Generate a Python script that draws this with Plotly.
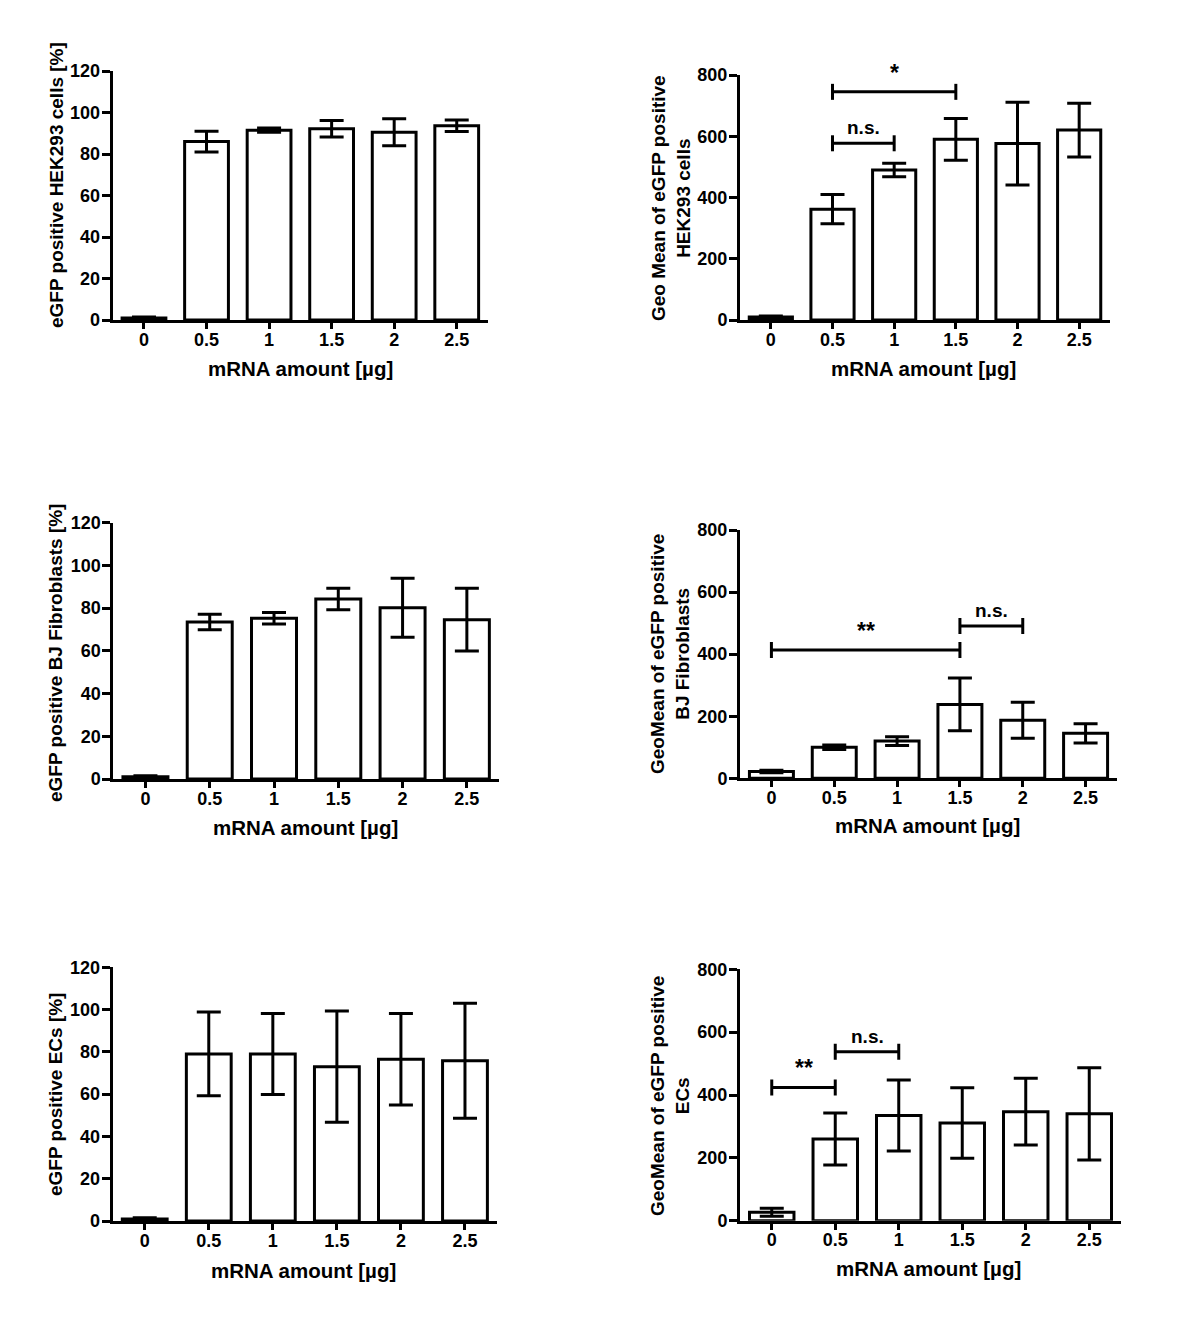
import plotly.graph_objects as go

W, H = 1200, 1322
FONT = "Liberation Sans"
OFF = 8  # page body margin of the html page

categories = ["0", "0.5", "1", "1.5", "2", "2.5"]

# Panel values (mean, error)
hek_pct = [1, 86, 91.5, 92.2, 90.5, 93.6]
hek_pct_err = [0.5, 5, 1, 4, 6.5, 2.8]
hek_geo = [10, 362, 490, 590, 576, 620]
hek_geo_err = [3, 48, 22, 68, 135, 88]
bj_pct = [1, 73.5, 75.3, 84.3, 80.2, 74.6]
bj_pct_err = [0.5, 3.6, 2.7, 5, 13.8, 14.7]
bj_geo = [22, 100, 120, 238, 187, 145]
bj_geo_err = [4, 7, 14, 85, 58, 31]
ec_pct = [1, 79, 79, 73, 76.5, 75.8]
ec_pct_err = [0.5, 19.8, 19.2, 26.3, 21.6, 27.2]
ec_geo = [27, 260, 335, 311, 347, 340]
ec_geo_err = [13, 83, 113, 112, 106, 147]

y_titles = [
    "eGFP positive HEK293 cells [%]",
    "Geo Mean of eGFP positive<br>HEK293 cells",
    "eGFP positive BJ Fibroblasts [%]",
    "GeoMean of eGFP positive<br>BJ Fibroblasts",
    "eGFP positive ECs [%]",
    "GeoMean of eGFP positive<br>ECs",
]
x_title = "mRNA amount [µg]"

# significance brackets: (panel, from, to, y, label)
brackets = [
    (2, "0.5", "1.5", 745, "*"),
    (2, "0.5", "1", 577, "n.s."),
    (4, "0", "1.5", 413, "**"),
    (4, "1.5", "2", 491, "n.s."),
    (6, "0", "0.5", 424, "**"),
    (6, "0.5", "1", 538, "n.s."),
]

panels = [
    (hek_pct, hek_pct_err, [0, 120], 20),
    (hek_geo, hek_geo_err, [0, 800], 200),
    (bj_pct, bj_pct_err, [0, 120], 20),
    (bj_geo, bj_geo_err, [0, 800], 200),
    (ec_pct, ec_pct_err, [0, 120], 20),
    (ec_geo, ec_geo_err, [0, 800], 200),
]

# pixel layout of plot areas: (x0, x1, ytop, ybottom)
boxes = [
    (112.7, 488, 71, 320),
    (740, 1110, 75, 320),
    (113.3, 499, 522.7, 779),
    (740, 1117, 530, 778.3),
    (112.7, 497, 967.3, 1221),
    (740, 1121, 969.3, 1220.7),
]
ytitle_pos = [(57, 185), (671, 198), (55, 653), (670, 654), (55, 1095), (670, 1096)]
xtitle_pos = [(300, 368), (923, 368), (305, 828), (927, 825), (303, 1270), (928, 1268)]


def px(x):
    return (x - OFF) / W


def py(y):
    return 1 - (y - OFF) / H


fig = go.Figure()
layout = dict(
    width=W, height=H, margin=dict(l=0, r=0, t=0, b=0, autoexpand=False),
    paper_bgcolor="white", plot_bgcolor="white", showlegend=False,
    font=dict(family=FONT, color="black", size=18, weight="bold"),
)
annotations = []
shapes = []

tickfont = dict(family=FONT, size=18, color="black", weight="bold")
for i, ((vals, errs, yr, dt), (x0, x1, yt, yb)) in enumerate(zip(panels, boxes)):
    n = i + 1
    sfx = "" if n == 1 else str(n)
    fig.add_trace(go.Bar(
        x=categories, y=vals, width=0.7,
        marker=dict(color="white", line=dict(color="black", width=3)),
        error_y=dict(type="data", array=errs, visible=True, color="black",
                     thickness=3, width=12),
        xaxis="x" + sfx, yaxis="y" + sfx,
    ))
    layout["xaxis" + sfx] = dict(
        domain=[px(x0), px(x1)], anchor="y" + sfx, type="category",
        range=[-0.5, 5.5], showline=True, linecolor="black", linewidth=3,
        ticks="outside", ticklen=6, tickwidth=2.5, tickcolor="black",
        showgrid=False, zeroline=False, automargin=False,
        ticklabelstandoff=-5, tickfont=tickfont,
    )
    layout["yaxis" + sfx] = dict(
        domain=[py(yb), py(yt)], anchor="x" + sfx,
        range=yr, dtick=dt, tick0=0, showline=True, linecolor="black", linewidth=3,
        ticks="outside", ticklen=8, tickwidth=2.5, tickcolor="black",
        showgrid=False, zeroline=False, automargin=False,
        ticklabelstandoff=-2, tickfont=tickfont,
    )
    tx, ty = ytitle_pos[i]
    annotations.append(dict(
        text=y_titles[i], x=px(tx), y=py(ty), xref="paper", yref="paper",
        textangle=-90, showarrow=False, xanchor="center", yanchor="middle",
        font=dict(family=FONT, size=19, color="black", weight="bold"),
    ))
    tx, ty = xtitle_pos[i]
    annotations.append(dict(
        text=x_title, x=px(tx), y=py(ty), xref="paper", yref="paper",
        showarrow=False, xanchor="center", yanchor="middle",
        font=dict(family=FONT, size=20.5, color="black", weight="bold"),
    ))

for (p, a, b, yv, lab) in brackets:
    sfx = "" if p == 1 else str(p)
    xr, yr_ = "x" + sfx, "y" + sfx
    ia, ib = categories.index(a), categories.index(b)
    shapes.append(dict(type="line", xref=xr, yref=yr_, x0=ia, x1=ib, y0=yv, y1=yv,
                       line=dict(color="black", width=3)))
    for xc in (ia, ib):
        shapes.append(dict(type="line", xref=xr, yref=yr_, x0=xc, x1=xc,
                           ysizemode="pixel", yanchor=yv, y0=-8, y1=8,
                           line=dict(color="black", width=3)))
    star = "*" in lab
    annotations.append(dict(
        text=lab, x=(ia + ib) / 2, y=yv, xref=xr, yref=yr_, showarrow=False,
        xanchor="center", yanchor="bottom", yshift=4 if star else 3,
        font=dict(family=FONT, size=23 if star else 19, color="black", weight="bold"),
    ))

layout["annotations"] = annotations
layout["shapes"] = shapes
fig.update_layout(**layout)
fig.write_html("out.html")
